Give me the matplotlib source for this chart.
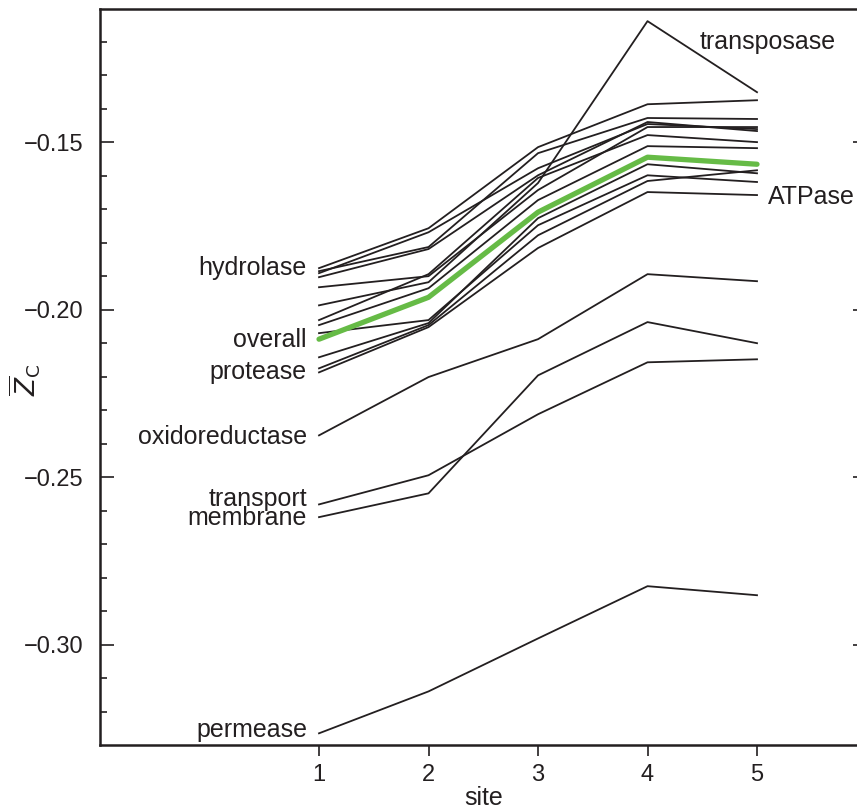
import numpy as np
import matplotlib.pyplot as plt
from matplotlib.ticker import MultipleLocator

plt.rcParams['font.family'] = ['Liberation Sans', 'DejaVu Sans']

# 사이트 (x축)
sites = [1, 2, 3, 4, 5]

# 라벨 없는 검은 선들
black_lines = [
    [-0.1876, -0.1757, -0.1515, -0.1387, -0.1375],
    [-0.1885, -0.1813, -0.1533, -0.1428, -0.1431],
    [-0.1891, -0.1769, -0.1578, -0.1446, -0.1461],
    [-0.1903, -0.1819, -0.1599, -0.1440, -0.1467],
    [-0.1933, -0.1900, -0.1643, -0.1455, -0.1455],
    [-0.2031, -0.1894, -0.1607, -0.1479, -0.1500],
    [-0.2046, -0.1936, -0.1673, -0.1512, -0.1518],
    [-0.2070, -0.2031, -0.1748, -0.1599, -0.1619],
    [-0.2142, -0.2040, -0.1727, -0.1566, -0.1593],
    [-0.2175, -0.2046, -0.1778, -0.1616, -0.1584],
    [-0.2187, -0.2052, -0.1816, -0.1649, -0.1658],
]
transposase = [-0.1987, -0.1918, -0.1622, -0.1139, -0.1351]
oxidoreductase = [-0.2375, -0.2201, -0.2088, -0.1894, -0.1915]
membrane = [-0.2619, -0.2548, -0.2196, -0.2037, -0.2100]
transport = [-0.2581, -0.2494, -0.2312, -0.2157, -0.2148]
permease = [-0.3264, -0.3139, -0.2981, -0.2825, -0.2852]
overall = [-0.2088, -0.1963, -0.1709, -0.1545, -0.1566]

# 왼쪽 라벨 (이름, y 위치)
left_labels = ['hydrolase', 'overall', 'protease', 'oxidoreductase',
               'transport', 'membrane', 'permease']
left_label_y = [-0.1876, -0.2091, -0.2187, -0.2381, -0.2565, -0.2623, -0.3255]

ytick_vals = [-0.30, -0.25, -0.20, -0.15]
ytick_labels = ['\u22120.30', '\u22120.25', '\u22120.20', '\u22120.15']

fs = 18

fig = plt.figure(figsize=(8.57, 8.10), dpi=100)
ax = fig.add_axes([0.1167, 0.0802, 0.8944, 0.9086])

lw = 1.3
for ys in black_lines:
    ax.plot(sites, ys, color='#231f20', lw=lw)
for ys in [transposase, oxidoreductase, membrane, transport, permease]:
    ax.plot(sites, ys, color='#231f20', lw=lw)
ax.plot(sites, overall, color='#66bb46', lw=3.8, solid_capstyle='round', zorder=5)

# 라벨
for name, y in zip(left_labels, left_label_y):
    ax.text(0.89, y, name, ha='right', va='center', fontsize=fs, color='#231f20')
ax.text(4.48, -0.1201, 'transposase', ha='left', va='center', fontsize=fs, color='#231f20')
ax.text(5.10, -0.1664, 'ATPase', ha='left', va='center', fontsize=fs, color='#231f20')

ax.set_xlim(-1, 6)
ax.set_ylim(-0.3299, -0.1103)
ax.set_xticks(sites)
ax.set_yticks(ytick_vals)
ax.set_yticklabels(ytick_labels)
ax.yaxis.set_minor_locator(MultipleLocator(0.01))
ax.tick_params(axis='y', which='both', direction='in', left=True, right=True, labelsize=17, width=1.2, colors='#231f20')
ax.tick_params(axis='y', which='major', length=10, pad=12)
ax.tick_params(axis='y', which='minor', length=5)
ax.tick_params(axis='x', which='major', direction='out', length=8, width=1.2, labelsize=17, pad=6, colors='#231f20')
for s in ax.spines.values():
    s.set_linewidth(1.8)
    s.set_color('#231f20')

ax.set_xlabel('site', fontsize=fs, labelpad=0, color='#231f20')
ax.set_ylabel(r'$\overline{Z}_{\mathrm{C}}$', fontsize=19, color='#231f20')
ax.yaxis.set_label_coords(-0.075, 0.496)

fig.savefig('out.png', dpi=100)
